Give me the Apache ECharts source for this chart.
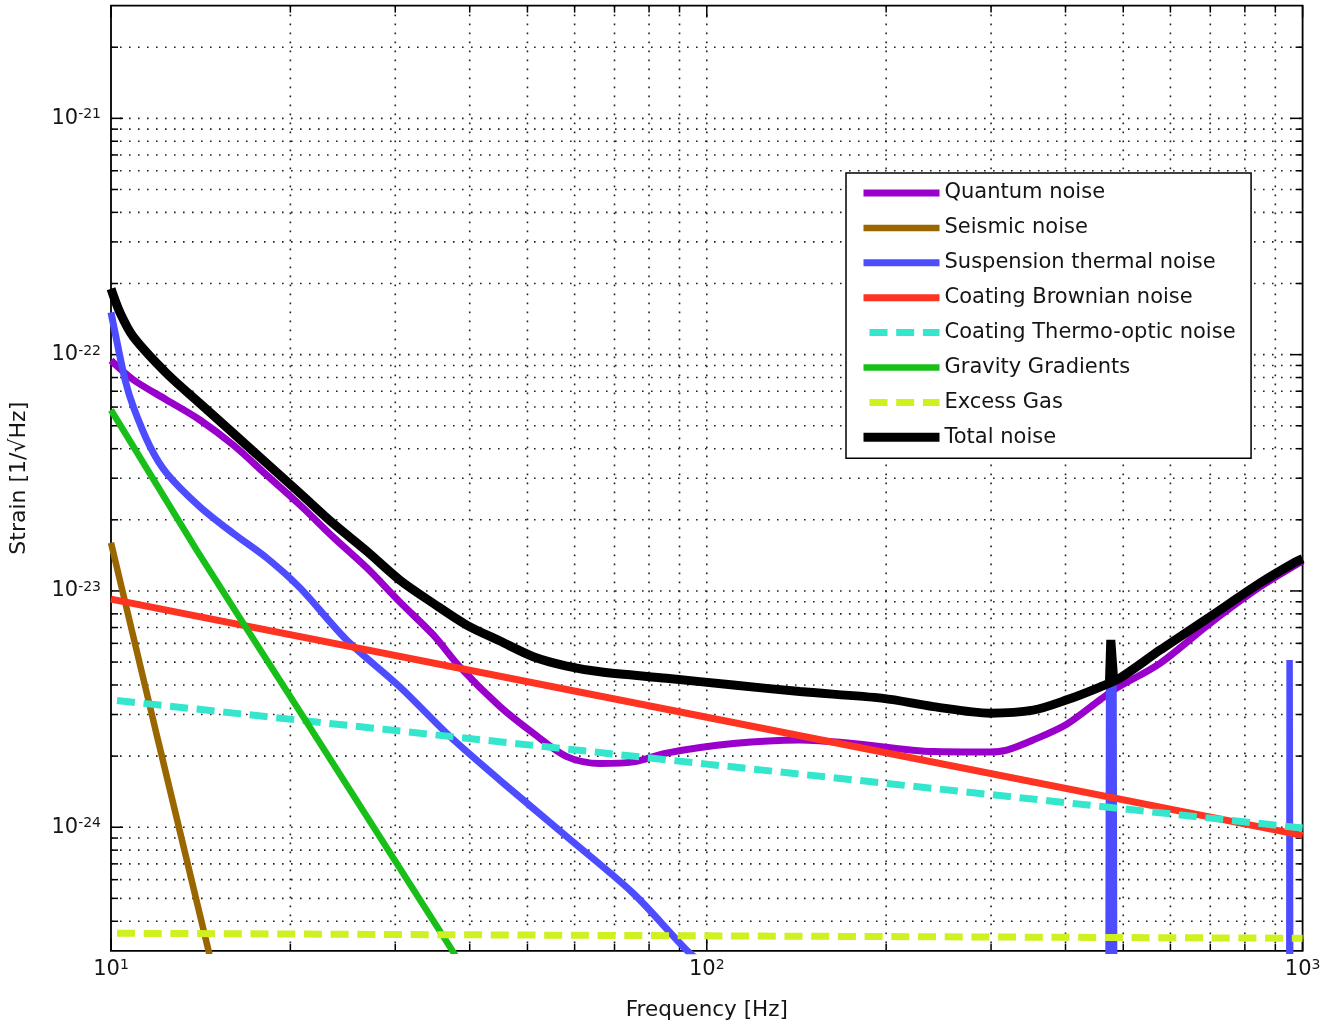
<!DOCTYPE html>
<html><head><meta charset="utf-8">
<script src="https://cdn.jsdelivr.net/npm/echarts@6/dist/echarts.min.js"></script>
<style>html,body{margin:0;padding:0;background:#fff}#c{width:1326px;height:1028px}</style>
</head><body><div id="c"></div>
<script>
// ---- data: [frequency (Hz), strain (1/sqrt(Hz))] ----
const seriesNames = ['Quantum noise','Seismic noise','Suspension thermal noise','Coating Brownian noise','Coating Thermo-optic noise','Gravity Gradients','Excess Gas','Total noise'];
const quantumNoise = [[10,9.46e-23],[10.9,7.83e-23],[12.4,6.43e-23],[14.1,5.29e-23],[16.05,4.14e-23],[18.25,3.09e-23],[20.76,2.31e-23],[23.6,1.69e-23],[26.9,1.25e-23],[30.55,8.97e-24],[34.75,6.51e-24],[38.53,4.76e-24],[44.97,3.24e-24],[51.15,2.50e-24],[58.2,1.99e-24],[66.2,1.86e-24],[75.3,1.89e-24],[85.6,2.06e-24],[110.8,2.26e-24],[143.3,2.34e-24],[173.9,2.27e-24],[240,2.09e-24],[298.7,2.08e-24],[318.7,2.12e-24],[353,2.34e-24],[402,2.73e-24],[457,3.46e-24],[487.5,3.88e-24],[576.4,4.94e-24],[699.2,7.29e-24],[848.3,1.04e-23],[1000,1.34e-23]];
const seismicNoise = [[10,1.60e-23],[12,2.32e-24],[14.57,3.02e-25],[15,2.2e-25]];
const suspensionThermal = [[10,1.51e-22],[10.22,1.15e-22],[10.56,7.81e-23],[10.9,6.02e-23],[11.63,4.08e-23],[12.4,3.15e-23],[14.1,2.27e-23],[16.05,1.75e-23],[18.25,1.38e-23],[20.76,1.03e-23],[24.86,6.2e-24],[30.55,3.92e-24],[37.07,2.42e-24],[44.97,1.58e-24],[58.2,9.12e-25],[75.26,5.25e-25],[92.5,3.02e-25],[100,2.56e-25]];
const suspensionViolin1 = [[471,1e-26],[473.5,4.3e-24],[481.5,4.3e-24],[484,1e-26]];
const suspensionViolin2 = [[948.8,1e-26],[951,5.1e-24],[953.2,5.1e-24],[955.4,1e-26]];
const coatingBrownian = [[10,9.23e-24],[100,2.92e-24],[1000,9.24e-25]];
const coatingThermoOptic = [[10,3.46e-24],[100,1.85e-24],[1000,9.92e-25]];
const gravityGradients = [[10,5.83e-23],[13.92,1.49e-23],[16.68,7.29e-24],[20.76,3.08e-24],[37.35,3.02e-25],[40,2.3e-25]];
const excessGas = [[10,3.56e-25],[100,3.47e-25],[1000,3.39e-25]];
const totalNoise = [[10,1.90e-22],[10.35,1.51e-22],[10.9,1.19e-22],[12.4,8.33e-23],[14.1,6.22e-23],[16.05,4.64e-23],[18.25,3.47e-23],[20.76,2.59e-23],[23.6,1.93e-23],[26.9,1.47e-23],[30.55,1.11e-23],[34.75,8.86e-24],[39.54,7.17e-24],[44.97,6.14e-24],[51.15,5.27e-24],[58.2,4.81e-24],[66.2,4.55e-24],[85.6,4.27e-24],[110.8,4.00e-24],[143.3,3.75e-24],[197.8,3.51e-24],[240,3.24e-24],[298.7,3.04e-24],[353,3.13e-24],[402,3.46e-24],[457,3.92e-24],[493.8,4.28e-24],[576.4,5.62e-24],[699.2,7.78e-24],[848.3,1.08e-23],[964.7,1.31e-23],[1000,1.37e-23]];
const totalViolin = [[474,4.08e-24],[476.5,6.2e-24],[479.5,6.2e-24],[482,4.17e-24]];

// grid / tick positions (major decades + minor multiples)
const xTickValues = [10,20,30,40,50,60,70,80,90,100,200,300,400,500,600,700,800,900,1000];
const yTickValues = [4e-25,5e-25,6e-25,7e-25,8e-25,9e-25,1e-24,2e-24,3e-24,4e-24,5e-24,6e-24,7e-24,8e-24,9e-24,1e-23,2e-23,3e-23,4e-23,5e-23,6e-23,7e-23,8e-23,9e-23,1e-22,2e-22,3e-22,4e-22,5e-22,6e-22,7e-22,8e-22,9e-22,1e-21,2e-21];
const X_MIN = 10, X_MAX = 1000, Y_MIN = 3e-25, Y_MAX = 3e-21;

const DASH = [18,8.7];
// [legend name, data, colour, width, dash, smooth]
const lineDefs = [
  [seriesNames[0], quantumNoise,       '#9900cc', 7,   null, 0.3],
  [seriesNames[1], seismicNoise,       '#996600', 6.5, null, 0],
  [seriesNames[2], suspensionThermal,  '#4d4dff', 7,   null, 0.3],
  [seriesNames[2], suspensionViolin1,  '#4d4dff', 6.5, null, 0],
  [seriesNames[2], suspensionViolin2,  '#4d4dff', 6.5, null, 0],
  [seriesNames[3], coatingBrownian,    '#ff3322', 7,   null, 0],
  [seriesNames[4], coatingThermoOptic, '#33e6cc', 7,   DASH, 0],
  [seriesNames[5], gravityGradients,   '#19bf19', 6.5, null, 0],
  [seriesNames[6], excessGas,          '#d0f020', 7,   DASH, 0],
  [seriesNames[7], totalNoise,         '#000000', 9,   null, 0.3],
  [seriesNames[7], totalViolin,        '#000000', 9,   null, 0]
];

function isDecade(v){const l=Math.log10(v);return Math.abs(l-Math.round(l))<1e-6;}
function supLabel(v){return '{b|10}{s|'+Math.round(Math.log10(v))+'}';}
const rich = {
  b:{fontSize:21,fontFamily:'DejaVu Sans',color:'#151515',lineHeight:21,padding:[10,0,10,0]},
  s:{fontSize:14,fontFamily:'DejaVu Sans',color:'#151515',lineHeight:14,verticalAlign:'top'}
};

function renderXGrid(params, api){
  const cs = params.coordSys;
  const v = api.value(0);
  const x = api.coord([v, api.value(1)])[0];
  const len = isDecade(v) ? 12 : 7;
  const top = cs.y, bottom = cs.y + cs.height;
  const ch = [];
  if (x > cs.x + 2 && x < cs.x + cs.width - 2) ch.push({type:'line',shape:{x1:x,y1:top,x2:x,y2:bottom},style:{stroke:'#222',lineWidth:1.6,lineDash:[1.6,7.4]}});
  ch.push({type:'line',shape:{x1:x,y1:bottom,x2:x,y2:bottom-len},style:{stroke:'#000',lineWidth:1.5}});
  ch.push({type:'line',shape:{x1:x,y1:top,x2:x,y2:top+len},style:{stroke:'#000',lineWidth:1.5}});
  return {type:'group',children:ch};
}
function renderYGrid(params, api){
  const cs = params.coordSys;
  const v = api.value(1);
  const y = api.coord([api.value(0), v])[1];
  const len = isDecade(v) ? 12 : 7;
  const left = cs.x, right = cs.x + cs.width;
  const ch = [];
  if (y > cs.y + 2 && y < cs.y + cs.height - 2) ch.push({type:'line',shape:{x1:left,y1:y,x2:right,y2:y},style:{stroke:'#222',lineWidth:1.6,lineDash:[1.6,7.4]}});
  ch.push({type:'line',shape:{x1:left,y1:y,x2:left+len,y2:y},style:{stroke:'#000',lineWidth:1.5}});
  ch.push({type:'line',shape:{x1:right,y1:y,x2:right-len,y2:y},style:{stroke:'#000',lineWidth:1.5}});
  return {type:'group',children:ch};
}

const series = [
  {type:'custom',name:'_xgrid',silent:true,z:1,clip:false,renderItem:renderXGrid,data:xTickValues.map(v=>[v,Y_MIN])},
  {type:'custom',name:'_ygrid',silent:true,z:1,clip:false,renderItem:renderYGrid,data:yTickValues.map(v=>[X_MIN,v])}
];
lineDefs.forEach(d=>{
  const [name,data,color,width,dash,smooth] = d;
  const ls = {color:color,width:width,cap:'butt',join:'bevel'};
  if (dash) { ls.type = dash; ls.dashOffset = 20.7; } else { ls.type = 'solid'; }
  series.push({type:'line',name:name,data:data,symbol:'none',showSymbol:false,clip:true,silent:true,
    smooth:smooth,
    emphasis:{disabled:true},z:2,lineStyle:ls,itemStyle:{color:color}});
});

const option = {
  animation:false,
  backgroundColor:'#ffffff',
  textStyle:{fontFamily:'DejaVu Sans'},
  grid:{left:111,right:23.4,top:5.6,bottom:77.2,show:true,borderColor:'#000',borderWidth:1.8,backgroundColor:'rgba(0,0,0,0)',containLabel:false,outerBoundsMode:'none'},
  xAxis:{type:'log',logBase:10,min:X_MIN,max:X_MAX,
    axisLine:{show:false},axisTick:{show:false},splitLine:{show:false},minorTick:{show:false},minorSplitLine:{show:false},
    axisLabel:{show:true,margin:8,interval:0,showMinLabel:true,showMaxLabel:true,formatter:supLabel,rich:rich},
    name:'Frequency [Hz]',nameLocation:'middle',nameGap:49,nameTextStyle:{fontSize:21.5,color:'#151515',fontFamily:'DejaVu Sans'}},
  yAxis:{type:'log',logBase:10,min:Y_MIN,max:Y_MAX,
    axisLine:{show:false},axisTick:{show:false},splitLine:{show:false},minorTick:{show:false},minorSplitLine:{show:false},
    axisLabel:{show:true,margin:10,interval:0,showMinLabel:false,showMaxLabel:false,formatter:supLabel,rich:rich},
    name:'Strain [1/\u221AHz]',nameLocation:'middle',nameGap:81,nameRotate:90,nameTextStyle:{fontSize:22,color:'#151515',fontFamily:'DejaVu Sans'}},
  legend:{show:true,orient:'vertical',left:846,top:173,padding:[8,15.5,9,13],itemWidth:76,itemHeight:14,itemGap:10.9,
    backgroundColor:'#ffffff',borderColor:'#000',borderWidth:1.5,borderRadius:0,selectedMode:false,
    lineStyle:{width:'inherit'},
    itemStyle:{color:'rgba(0,0,0,0)',borderColor:'rgba(0,0,0,0)',borderWidth:0,opacity:0},
    textStyle:{fontSize:21,color:'#151515',fontFamily:'DejaVu Sans',lineHeight:24},
    data:seriesNames},
  series:series
};
const chart = echarts.init(document.getElementById('c'), null, {renderer:'canvas',width:1326,height:1028});
chart.setOption(option);
</script></body></html>
